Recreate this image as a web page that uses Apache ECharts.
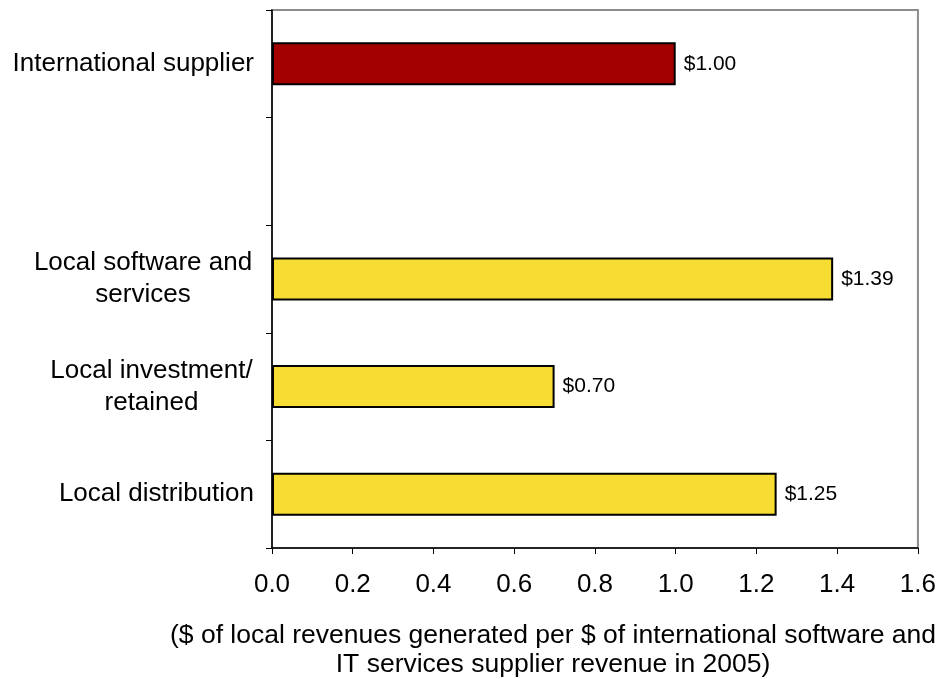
<!DOCTYPE html>
<html>
<head>
<meta charset="utf-8">
<script src="https://cdn.jsdelivr.net/npm/echarts@6/dist/echarts.min.js"></script>
<style>
  html, body { margin: 0; padding: 0; background: #fff; }
  #chart { width: 939px; height: 679px; }
</style>
</head>
<body>
<div id="chart"></div>
<script>
// categories top to bottom, one empty slot between supplier and local groups
const categories = ['International supplier', '', 'Local software and services', 'Local investment/retained', 'Local distribution']
const values = [1.00, null, 1.39, 0.70, 1.25]
const barColors = ['#a30000', null, '#f6dc33', '#f6dc33', '#f6dc33']
const xTicks = [0, 0.2, 0.4, 0.6, 0.8, 1.0, 1.2, 1.4, 1.6]
const axisTitle = '($ of local revenues generated per $ of international software and\nIT services supplier revenue in 2005)'

const font = 'Liberation Sans, Arial, sans-serif'

// split long category names over two centred lines
const labelText = {
  'Local software and services': '{a|Local software and}\n{a|services}',
  'Local investment/retained': '{b|Local investment/}\n{b|retained}',
}

const chart = echarts.init(document.getElementById('chart'))

chart.setOption({
  animation: false,
  grid: {
    left: 272,
    right: 21,
    top: 10,
    bottom: 131,
    show: true,
    borderColor: '#8c8c8c',
    borderWidth: 2,
  },
  xAxis: {
    type: 'value',
    min: xTicks[0],
    max: xTicks[xTicks.length - 1],
    interval: 0.2,
    axisLine: { show: true, lineStyle: { color: '#000', width: 1.5 } },
    axisTick: { show: true, length: 6, lineStyle: { color: '#000' } },
    splitLine: { show: false },
    axisLabel: {
      color: '#000',
      fontFamily: font,
      fontSize: 26,
      margin: 24,
      formatter: (v) => v.toFixed(1),
    },
  },
  yAxis: {
    type: 'category',
    inverse: true,
    data: categories,
    axisLine: { show: true, lineStyle: { color: '#000', width: 1.5 } },
    axisTick: { show: true, length: 6, lineStyle: { color: '#000' } },
    axisLabel: {
      color: '#000',
      fontFamily: font,
      fontSize: 26,
      margin: 18,
      lineHeight: 32,
      formatter: (v) => labelText[v] || v,
      rich: {
        a: { width: 222, align: 'center', fontSize: 26, fontFamily: font, color: '#000', lineHeight: 32 },
        b: { width: 205, align: 'center', fontSize: 26, fontFamily: font, color: '#000', lineHeight: 32 },
      },
    },
  },
  series: [
    {
      type: 'bar',
      barWidth: '40%',
      data: values.map((v, i) => ({
        value: v,
        itemStyle: { color: barColors[i] },
      })),
      itemStyle: { borderColor: '#000', borderWidth: 2 },
      label: {
        show: true,
        position: 'right',
        distance: 8,
        color: '#000',
        fontFamily: font,
        fontSize: 21,
        formatter: (p) => '$' + p.value.toFixed(2),
      },
    },
  ],
  graphic: [
    {
      type: 'text',
      x: 553,
      y: 621,
      style: {
        text: axisTitle,
        align: 'center',
        verticalAlign: 'top',
        fill: '#000',
        font: '26.5px ' + font,
        lineHeight: 29,
      },
    },
  ],
})
</script>
</body>
</html>
